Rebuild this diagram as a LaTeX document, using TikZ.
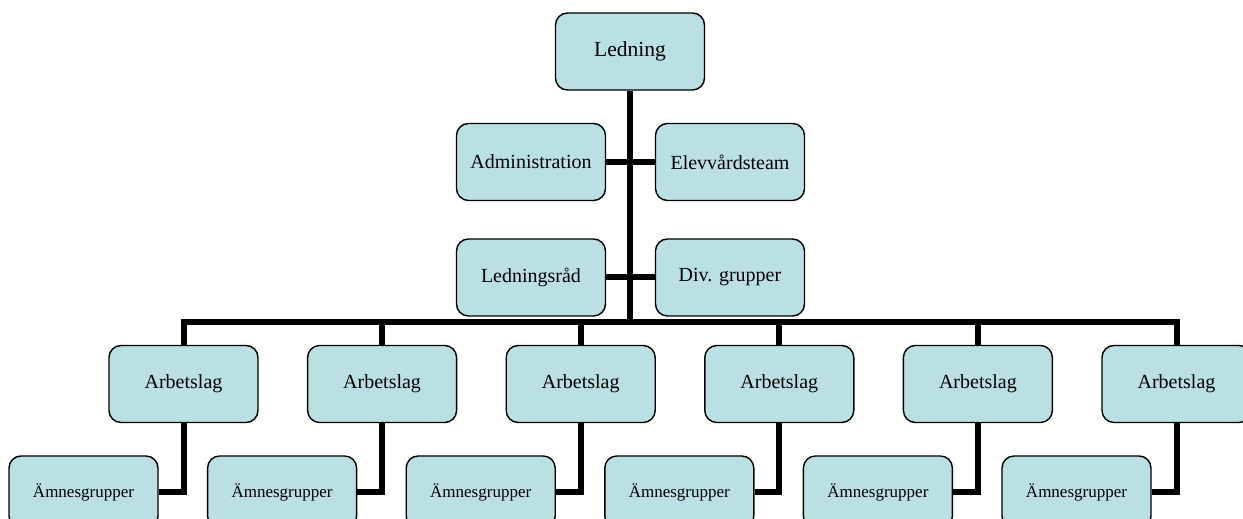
\documentclass[tikz,border=0pt]{standalone}
\usepackage{fontspec}
\setmainfont{Liberation Serif}
\usepackage{tikz}
\usetikzlibrary{positioning}

\definecolor{boxfill}{RGB}{187,224,227}

\tikzset{
  orgbox/.style={draw, line width=1.4pt, fill=boxfill, rounded corners=12pt,
    minimum width=149pt, minimum height=77pt, inner sep=0pt,
    font=\fontsize{20}{24}\selectfont},
  smallbox/.style={orgbox, minimum height=72pt, font=\fontsize{17}{20}\selectfont},
  link/.style={line width=6pt}
}

\begin{document}
\begin{tikzpicture}[x=1pt,y=1pt]
\useasboundingbox (0,0) rectangle (1243,519);
\clip (0,0) rectangle (1243,519);

% Ledning and staff
\node[orgbox, font=\fontsize{21.5}{26}\selectfont] (ledning) at (630,467.5) {Ledning};
\node[orgbox] (admin) at (531,357) {Administration};
\node[orgbox] (elev) at (730,357) {Elevvårdsteam};
\node[orgbox] (ledrad) at (531,241.5) {Ledningsråd};
\node[orgbox] (divgr) at (730,241.5) {Div. grupper};
\coordinate (bar) at (630,197);

% Trunk
\draw[link] (ledning.south) -- (bar);
\draw[link] (admin.east) -- (elev.west);
\draw[link] (ledrad.east) -- (divgr.west);

% Arbetslag and Ämnesgrupper
\foreach \i in {1,...,6} {
  \pgfmathsetmacro\xa{183.5+198.6*(\i-1)}
  \node[orgbox] (arb\i) at (\xa,135) {Arbetslag};
  \node[smallbox] (amne\i) at (\xa-100,27) {Ämnesgrupper};
  \draw[link] (arb\i.south) |- (amne\i.east);
  \draw[link] (arb\i.north) -- (arb\i.north |- bar);
}
\draw[link] (arb1.north) |- (arb6.north |- bar) -- (arb6.north);
\end{tikzpicture}
\end{document}
